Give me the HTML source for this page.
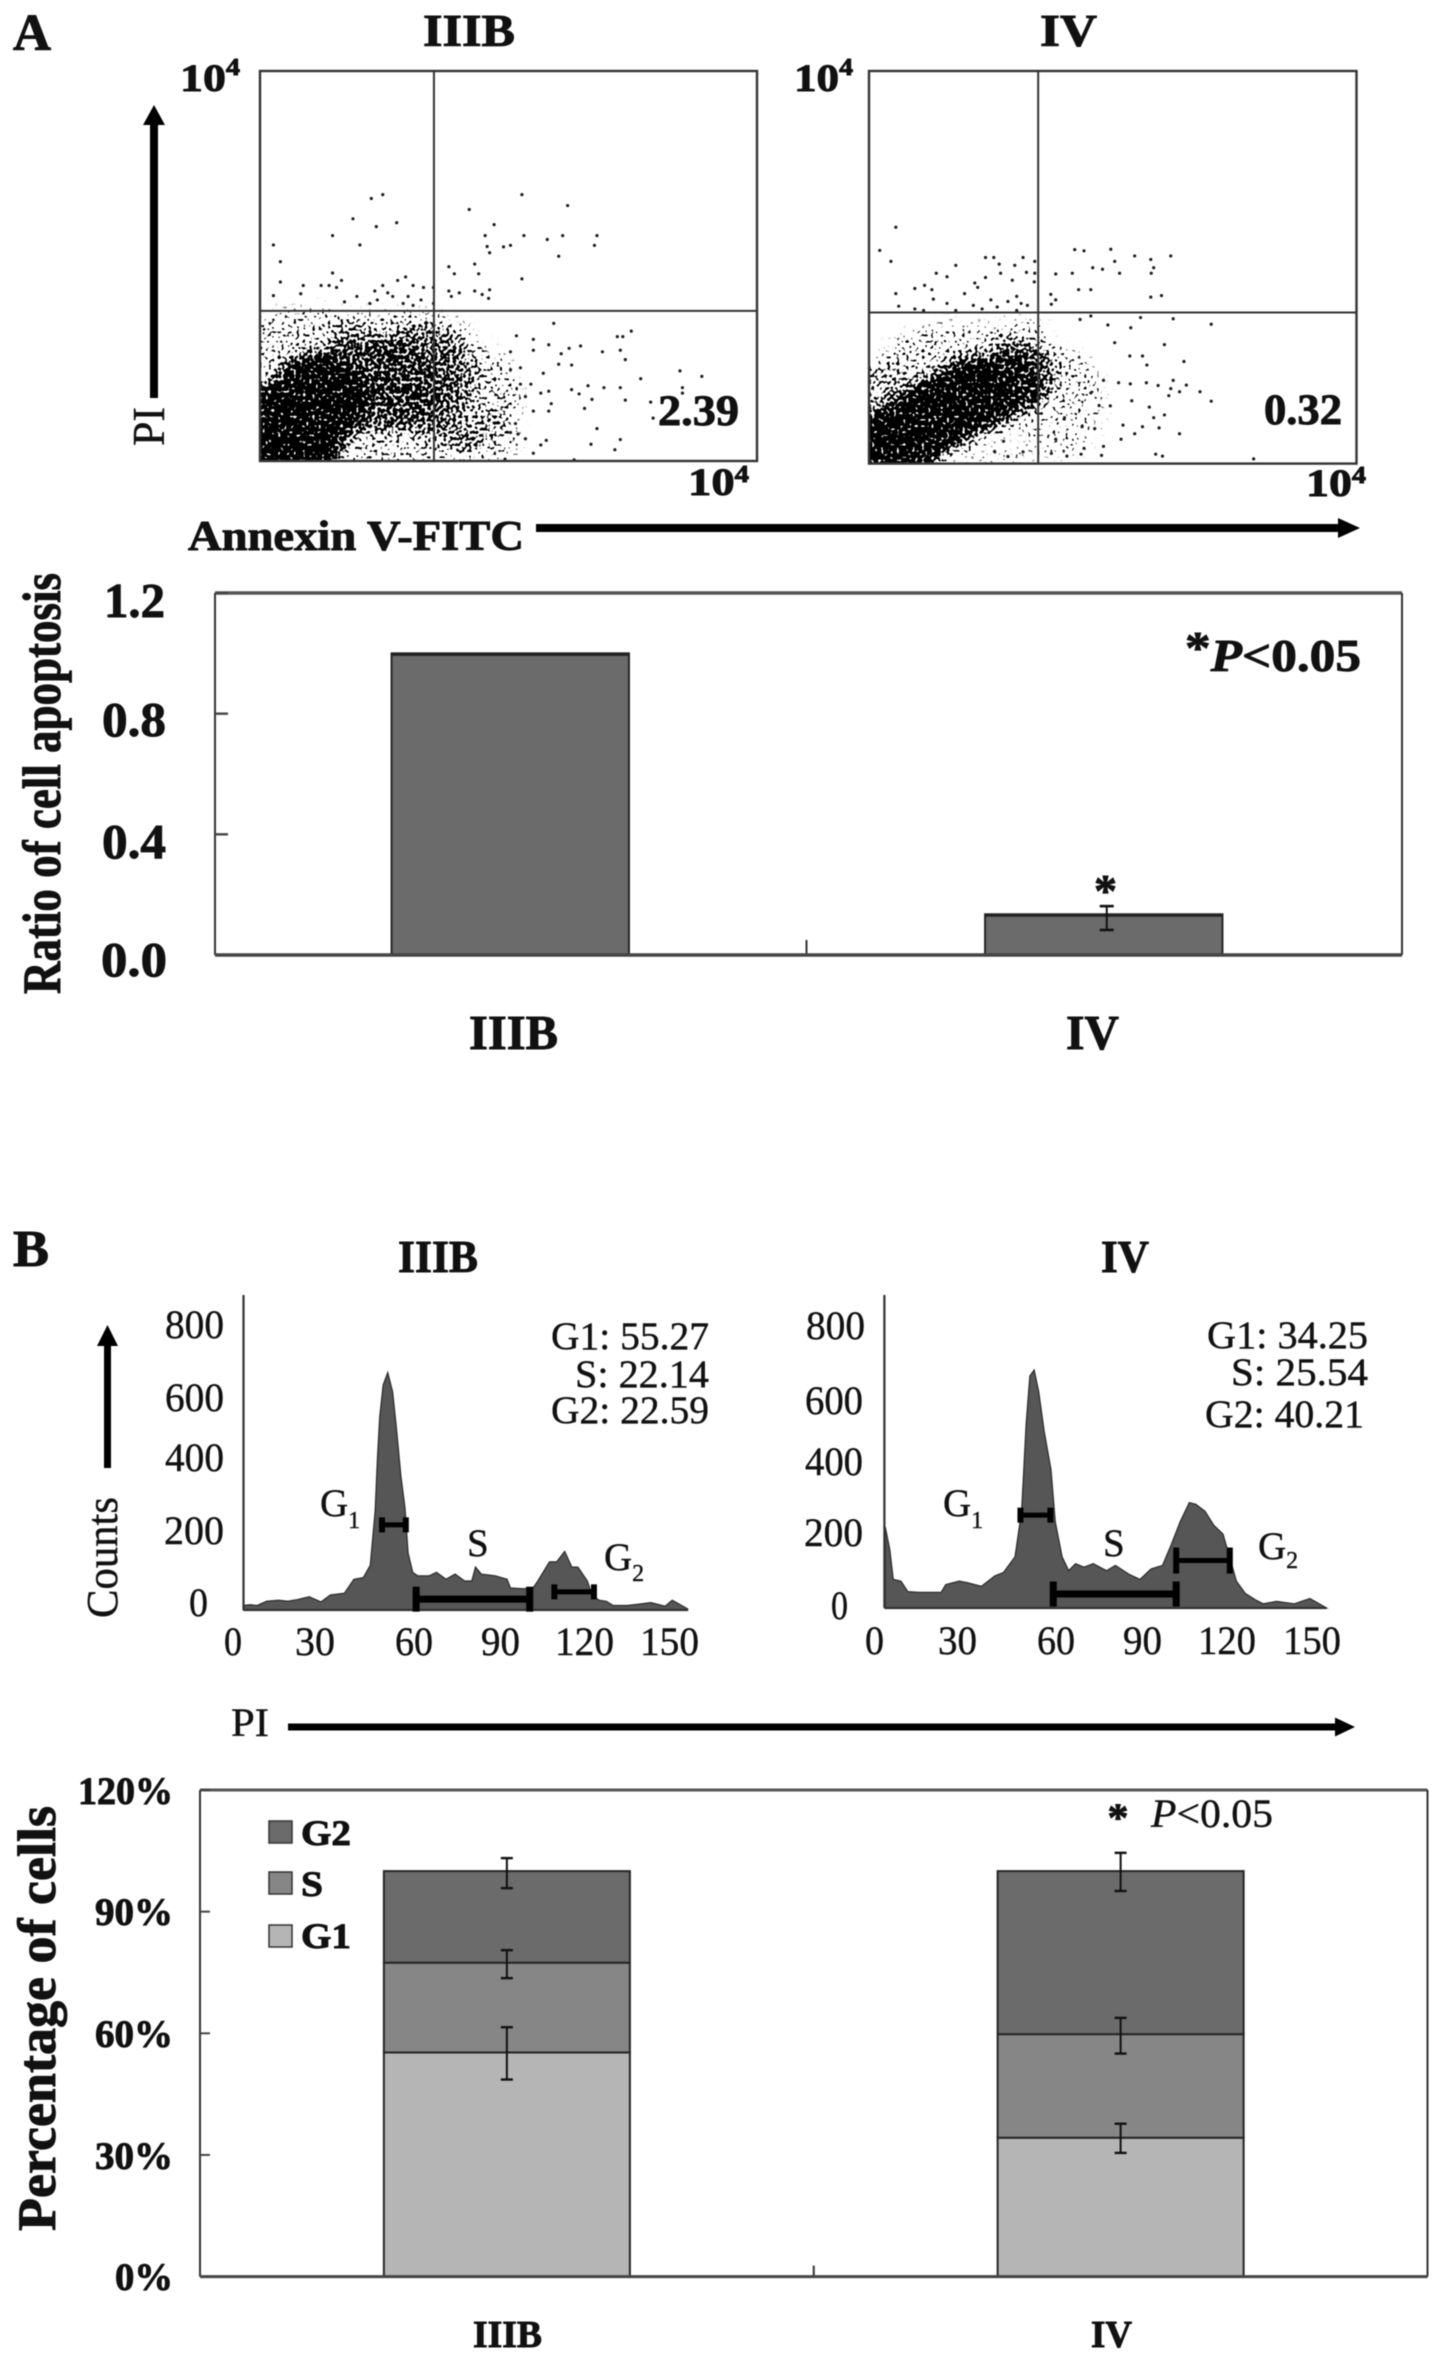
<!DOCTYPE html>
<html lang="en">
<head>
<meta charset="utf-8">
<title>Apoptosis and cell cycle: IIIB vs IV</title>
<style>
html,body{margin:0;padding:0;background:#fff;}
#figure{position:absolute;left:0;top:0;width:1441px;height:2360px;filter:blur(.55px);}
text{font-family:"Liberation Serif",serif;fill:#111;}
.b{font-weight:bold;stroke:#111;stroke-width:.9px;}
.r{font-weight:normal;stroke:#111;stroke-width:.4px;}
</style>
</head>
<body>
<svg id="figure" xmlns="http://www.w3.org/2000/svg" width="1441" height="2360" viewBox="0 0 1441 2360">
<defs>
<filter id="speckle" filterUnits="userSpaceOnUse" x="200" y="40" width="1200" height="460" color-interpolation-filters="sRGB">
<feGaussianBlur in="SourceGraphic" stdDeviation="7" result="dens"/>
<feTurbulence type="fractalNoise" baseFrequency="0.32" numOctaves="1" seed="7" result="t"/>
<feColorMatrix in="t" type="matrix" values="0 0 0 0 0  0 0 0 0 0  0 0 0 0 0  0 0 0 2.5 -0.75" result="n"/>
<feComposite in="dens" in2="n" operator="arithmetic" k1="0" k2="1" k3="1" k4="-1" result="m"/>
<feComponentTransfer in="m"><feFuncA type="linear" slope="6" intercept="0"/></feComponentTransfer>
</filter>
<clipPath id="clip-iiib"><rect x="260" y="71" width="497" height="390"/></clipPath>
<clipPath id="clip-iv"><rect x="869" y="71" width="487.5" height="392.6"/></clipPath>
</defs>

<!-- Panel A labels -->
<text class="b" x="13" y="50" font-size="52" textLength="38" lengthAdjust="spacingAndGlyphs">A</text>
<text class="b" x="423" y="46" font-size="45" textLength="92" lengthAdjust="spacingAndGlyphs">IIIB</text>
<text class="b" x="1040" y="46" font-size="45" textLength="57" lengthAdjust="spacingAndGlyphs">IV</text>
<text class="b" x="180" y="91" font-size="39" textLength="60" lengthAdjust="spacingAndGlyphs">10<tspan font-size="24" dy="-16">4</tspan></text>
<text class="b" x="688" y="495" font-size="39" textLength="61" lengthAdjust="spacingAndGlyphs">10<tspan font-size="24" dy="-13">4</tspan></text>
<text class="b" x="794" y="91" font-size="39" textLength="59" lengthAdjust="spacingAndGlyphs">10<tspan font-size="24" dy="-16">4</tspan></text>
<text class="b" x="1306" y="496" font-size="39" textLength="60" lengthAdjust="spacingAndGlyphs">10<tspan font-size="24" dy="-13">4</tspan></text>

<g id="scatter-layer"></g>

<text class="b" x="658" y="425" font-size="43" textLength="81" lengthAdjust="spacingAndGlyphs">2.39</text>
<text class="b" x="1264" y="424" font-size="43" textLength="78" lengthAdjust="spacingAndGlyphs">0.32</text>

<rect x="150" y="122" width="8" height="276" fill="#000"/>
<polygon points="154,105 143,125 165,125" fill="#000"/>
<text class="r" transform="translate(164,446) rotate(-90)" font-size="46" textLength="39" lengthAdjust="spacingAndGlyphs">PI</text>
<text class="b" x="188" y="550" font-size="42" textLength="336" lengthAdjust="spacingAndGlyphs">Annexin V-FITC</text>
<rect x="536" y="524" width="804" height="8" fill="#000"/>
<polygon points="1360,528 1338,518 1338,538" fill="#000"/>

<!-- Apoptosis bar chart labels -->
<g id="apoptosis-chart"></g>
<text class="b" transform="translate(60,994) rotate(-90)" font-size="54" textLength="421" lengthAdjust="spacingAndGlyphs">Ratio of cell apoptosis</text>
<text class="b" x="104" y="617" font-size="49" textLength="61" lengthAdjust="spacingAndGlyphs">1.2</text>
<text class="b" x="102" y="736" font-size="49" textLength="64" lengthAdjust="spacingAndGlyphs">0.8</text>
<text class="b" x="102" y="858" font-size="49" textLength="64" lengthAdjust="spacingAndGlyphs">0.4</text>
<text class="b" x="101" y="976" font-size="49" textLength="66" lengthAdjust="spacingAndGlyphs">0.0</text>
<text class="b" x="1185" y="671" font-size="46" textLength="176" lengthAdjust="spacingAndGlyphs"><tspan dy="-8">*</tspan><tspan dy="8" font-style="italic">P</tspan>&lt;0.05</text>
<text class="b" x="1094" y="906" font-size="46">*</text>
<text class="b" x="469" y="1049" font-size="49" textLength="89" lengthAdjust="spacingAndGlyphs">IIIB</text>
<text class="b" x="1066" y="1049" font-size="49" textLength="53" lengthAdjust="spacingAndGlyphs">IV</text>

<!-- Panel B labels -->
<text class="b" x="13" y="1266" font-size="52" textLength="36" lengthAdjust="spacingAndGlyphs">B</text>
<text class="b" x="398" y="1272" font-size="46" textLength="80" lengthAdjust="spacingAndGlyphs">IIIB</text>
<text class="b" x="1101" y="1272" font-size="46" textLength="48" lengthAdjust="spacingAndGlyphs">IV</text>

<g id="histogram-layer"></g>

<text class="r" x="165" y="1338" font-size="40" textLength="59" lengthAdjust="spacingAndGlyphs">800</text>
<text class="r" x="165" y="1411" font-size="40" textLength="59" lengthAdjust="spacingAndGlyphs">600</text>
<text class="r" x="165" y="1471" font-size="40" textLength="59" lengthAdjust="spacingAndGlyphs">400</text>
<text class="r" x="164" y="1544" font-size="40" textLength="60" lengthAdjust="spacingAndGlyphs">200</text>
<text class="r" x="189" y="1616" font-size="40" textLength="19" lengthAdjust="spacingAndGlyphs">0</text>
<text class="r" x="224" y="1655" font-size="40" textLength="18" lengthAdjust="spacingAndGlyphs">0</text>
<text class="r" x="295" y="1655" font-size="40" textLength="40" lengthAdjust="spacingAndGlyphs">30</text>
<text class="r" x="395" y="1655" font-size="40" textLength="38" lengthAdjust="spacingAndGlyphs">60</text>
<text class="r" x="481" y="1655" font-size="40" textLength="39" lengthAdjust="spacingAndGlyphs">90</text>
<text class="r" x="555" y="1655" font-size="40" textLength="59" lengthAdjust="spacingAndGlyphs">120</text>
<text class="r" x="640" y="1655" font-size="40" textLength="59" lengthAdjust="spacingAndGlyphs">150</text>

<text class="r" x="806" y="1339" font-size="40" textLength="59" lengthAdjust="spacingAndGlyphs">800</text>
<text class="r" x="805" y="1414" font-size="40" textLength="58" lengthAdjust="spacingAndGlyphs">600</text>
<text class="r" x="805" y="1475" font-size="40" textLength="58" lengthAdjust="spacingAndGlyphs">400</text>
<text class="r" x="804" y="1546" font-size="40" textLength="59" lengthAdjust="spacingAndGlyphs">200</text>
<text class="r" x="831" y="1619" font-size="40" textLength="17" lengthAdjust="spacingAndGlyphs">0</text>
<text class="r" x="865" y="1654" font-size="40" textLength="19" lengthAdjust="spacingAndGlyphs">0</text>
<text class="r" x="938" y="1654" font-size="40" textLength="39" lengthAdjust="spacingAndGlyphs">30</text>
<text class="r" x="1037" y="1654" font-size="40" textLength="38" lengthAdjust="spacingAndGlyphs">60</text>
<text class="r" x="1123" y="1654" font-size="40" textLength="39" lengthAdjust="spacingAndGlyphs">90</text>
<text class="r" x="1198" y="1654" font-size="40" textLength="58" lengthAdjust="spacingAndGlyphs">120</text>
<text class="r" x="1283" y="1654" font-size="40" textLength="58" lengthAdjust="spacingAndGlyphs">150</text>

<text class="r" x="551" y="1349" font-size="39" textLength="158" lengthAdjust="spacingAndGlyphs">G1: 55.27</text>
<text class="r" x="575" y="1387" font-size="39" textLength="134" lengthAdjust="spacingAndGlyphs">S: 22.14</text>
<text class="r" x="551" y="1423" font-size="39" textLength="158" lengthAdjust="spacingAndGlyphs">G2: 22.59</text>
<text class="r" x="1207" y="1348" font-size="39" textLength="161" lengthAdjust="spacingAndGlyphs">G1: 34.25</text>
<text class="r" x="1231" y="1385" font-size="39" textLength="137" lengthAdjust="spacingAndGlyphs">S: 25.54</text>
<text class="r" x="1205" y="1427" font-size="39" textLength="159" lengthAdjust="spacingAndGlyphs">G2: 40.21</text>

<text class="r" x="320" y="1516" font-size="39">G<tspan font-size="24" dy="12">1</tspan></text>
<text class="r" x="467" y="1556" font-size="39">S</text>
<text class="r" x="604" y="1570" font-size="39">G<tspan font-size="24" dy="11">2</tspan></text>
<text class="r" x="943" y="1516" font-size="39">G<tspan font-size="24" dy="12">1</tspan></text>
<text class="r" x="1103" y="1556" font-size="39">S</text>
<text class="r" x="1258" y="1559" font-size="39">G<tspan font-size="24" dy="9">2</tspan></text>

<text class="r" transform="translate(117,1618) rotate(-90)" font-size="44" textLength="121" lengthAdjust="spacingAndGlyphs">Counts</text>
<rect x="104" y="1343" width="7" height="125" fill="#000"/>
<polygon points="107.5,1325 97,1346 118,1346" fill="#000"/>
<text class="r" x="231" y="1736" font-size="40" textLength="38" lengthAdjust="spacingAndGlyphs">PI</text>
<rect x="288" y="1723.5" width="1050" height="7" fill="#000"/>
<polygon points="1355,1727 1335,1717.5 1335,1736.5" fill="#000"/>

<!-- Stacked chart labels -->
<g id="stacked-chart"></g>
<text class="b" transform="translate(55,2231) rotate(-90)" font-size="54" textLength="425" lengthAdjust="spacingAndGlyphs">Percentage of cells</text>
<text class="b" x="78" y="1804" font-size="39" textLength="95" lengthAdjust="spacingAndGlyphs">120%</text>
<text class="b" x="95" y="1925" font-size="39" textLength="78" lengthAdjust="spacingAndGlyphs">90%</text>
<text class="b" x="95" y="2047" font-size="39" textLength="78" lengthAdjust="spacingAndGlyphs">60%</text>
<text class="b" x="95" y="2169" font-size="39" textLength="78" lengthAdjust="spacingAndGlyphs">30%</text>
<text class="b" x="115" y="2290" font-size="39" textLength="58" lengthAdjust="spacingAndGlyphs">0%</text>

<rect x="269" y="1821" width="23" height="22" fill="#6b6b6b" stroke="#333" stroke-width="1.5"/>
<rect x="269" y="1872" width="23" height="22" fill="#868686" stroke="#333" stroke-width="1.5"/>
<rect x="269" y="1925" width="23" height="22" fill="#b5b5b5" stroke="#333" stroke-width="1.5"/>
<text class="b" x="301" y="1845" font-size="36" textLength="50" lengthAdjust="spacingAndGlyphs">G2</text>
<text class="b" x="301" y="1896" font-size="36" textLength="22" lengthAdjust="spacingAndGlyphs">S</text>
<text class="b" x="301" y="1948" font-size="36" textLength="50" lengthAdjust="spacingAndGlyphs">G1</text>

<text class="b" x="1107.5" y="1831" font-size="40" textLength="21" lengthAdjust="spacingAndGlyphs">*</text>
<text class="r" x="1151" y="1827" font-size="40" textLength="122" lengthAdjust="spacingAndGlyphs"><tspan font-style="italic">P</tspan>&lt;0.05</text>
<text class="b" x="473" y="2347" font-size="38" textLength="69" lengthAdjust="spacingAndGlyphs">IIIB</text>
<text class="b" x="1091" y="2347" font-size="38" textLength="41" lengthAdjust="spacingAndGlyphs">IV</text>
</svg>

<script>
/* ---------- Flow cytometry scatter: values in percent of the 4-decade log axes ---------- */
const annexinIIIB = [24.7,22.4,18.7,27.5,23.4,14.6,20.1,2.7,4.1,14.6,16.4,4.1,8.7,12.3,13.9,15.4,8.2,2.7,24.7,29.3,27.7,30.8,32.9,34.9,38,39.1,43.2,44,52.7,61.9,42.1,47.1,45.3,53.1,57.8,60.9,67.8,67.3,45.7,46.2,49,50.4,60.1,52.7,38,40.1,38.5,43.2,44.7,46.2,46,23.1,25.7,23.6,19.5,17,26.7,29.8,32.4,34.9,22.1,28.8,30.8,74.7,71.9,73,72.5,73.5,68.9,64.5,62.2,60.6,60.1,62.7,59.1,58.1,55,51.6,55,50.4,84.5,88.9,76.6,85,85,72.5,69.2,66,62.7,64.2,66.8,65.3,73.5,78.6,79.1,67.8,72.5,66.6,71.4,57.6,56.5,53.4,55,63.2,49.3,58.1,55,58.6,56.5,58.1,53.4,54.5,52.4,57,50.4,52.4,51.4,50.4,51.9];
const piIIIB = [68.3,67.3,62.1,61.1,60.1,57.8,55.4,55.4,51.1,48.2,46.3,45.9,45,45,45,44.5,42.9,42.4,45,47.2,46.3,45,44.5,44.5,49.8,48,50.5,48,68.3,65.5,64.5,60.6,57.8,57.8,56.8,57.8,57.8,55.3,55,53.4,54.9,55.3,52.5,46.7,43.6,43.1,42.2,43.6,42.7,43.9,41.7,43.6,43.1,41.3,42.2,40.8,42.2,42.2,41.3,40.4,40.4,40.4,39.9,33.3,31.9,31.9,28.4,26,28,29.5,28.9,27.5,24.8,24.6,35.3,29.8,31.2,32.1,28.4,28,23.1,21.7,21.1,18.8,17.4,18.8,18.8,19.3,18.3,17.2,15.8,13.5,15.6,15.1,11,8.3,5.5,4.3,2.9,5.3,4.1,5.7,2,0.3,0.5,12.8,12.8,14.7,17.4,17.9,16.5,19.7,19.7,22.5,23.4,23.9,9.6,7.3,6.9];
const annexinIV = [5.5,2.2,4.5,13.8,16,17.8,23.9,25.6,31.6,34,26.7,29.9,32.3,34,27,23.9,29.4,21.7,33.9,22.3,9.4,11.4,12.9,5.5,13.2,16,19.6,25,21.4,28.5,30.3,31.2,32.5,6.1,11.2,9.4,17.8,23.2,26.3,30.3,42.2,44.1,49.6,54.5,57.8,61.9,50.4,45.9,47.9,51.4,58.4,57.9,41.7,38.3,43,45.5,57.8,60,37.3,38.3,37.4,55.7,62.4,70.2,45.5,43.3,49,53.7,60.6,50.4,53.5,56.1,57,64.6,51.2,53.6,56.9,59.3,62.4,61.9,65.1,63.7,67.9,70.2,61.5,53.9,47.2,49.5,57.5,60.6,58.4,52.1,56.1,59.5,63.7,51.7,54.5,46.3,43.7,44.1,48.1,47.7,40.6,37.4,43.5,58.8,60.2,78.9,27.6,25.8,31.6,28.5,38.3,40.1,45.5,48.1];
const piIV = [60.2,54.3,51.5,48.5,47.6,50.5,52.5,52.5,52.5,51.5,50.8,50.5,48.7,48.5,48.5,47.4,46.7,46,46.3,44.9,44.6,45.4,44.3,43.3,41.9,40.8,43.3,41.7,40.3,41.3,42.6,40.8,40.3,40.1,39,39.4,39,39.4,39.9,39,54.5,54.2,54.6,52.9,52,52.9,51.5,49.9,49.5,48.5,49.9,48.5,48.5,48.3,44.3,44.3,42.4,42.8,43.1,41.7,40.6,37.2,36.9,35.5,37.6,36.7,35.3,34.6,30.3,30.8,27.4,27.4,25.1,26,20.6,20.3,20.6,19.9,21.2,19.1,20,18.3,18.3,15.9,17.3,16,14.8,14.7,14.4,12.4,11.7,9.8,9.4,9.1,7.6,6.2,7.6,8.9,9.4,3.9,4.4,2.1,1.9,2.6,2.4,2.4,1.9,1.2,5.7,3,3,1.8,6.2,11.7,18,21.2];
/* Too many events to read singly in the dense core, so density clouds stand in for them */
const cloudXIIIB = [5,12,22,32,26,42,10,28,46];
const cloudYIIIB = [7,16,19.5,21,5,16,30,32,5];
const cloudRxIIIB = [12,10,14,11,18,10,14,15,6];
const cloudRyIIIB = [14,12,12,14,6,14,9,6,8];
const cloudDensityIIIB = [1,1,.52,.48,.28,.32,.26,.28,.2];
const cloudXIV = [3.3,9.4,15.6,21.7,27.9,32,3.3,18.7,39,27,31];
const cloudYIV = [4.8,8.6,13.6,17.4,20,22.6,17.5,27.7,16,2,31];
const cloudRxIV = [7,8,8,9,8,7,6,15,9,8,6];
const cloudRyIV = [9,10,10,10,9,8,9,8,14,3,6];
const cloudDensityIV = [1,1,1,.95,.65,.5,.4,.24,.2,.15,.24];
const gateXPercent = [35, 34.7];
const gateYPercent = [38.5, 38.5];

/* ---------- Apoptosis ratio bar chart ---------- */
const apoptosisCategories = ['IIIB','IV'];
const apoptosisMeans = [1.0, 0.135];
const apoptosisErrHigh = [null, 0.162];
const apoptosisErrLow = [null, 0.083];
const apoptosisTicks = [0, 0.4, 0.8, 1.2];

/* ---------- Cell-cycle histograms ---------- */
const histChannelIIIB = [0,2.3,4.8,8.1,12.2,15.5,18.8,22.9,27,30.3,35.2,38.5,41.8,44.2,45.9,46.7,47.5,48.7,50.3,52,53.3,54.9,56.3,57.4,59,60.7,64.8,67.3,70.6,73.8,77.1,79.6,80.9,82.9,87.8,91.9,93.1,97.7,101,102.6,106.7,109.2,112,114.5,116.6,119.9,121.5,124,126.5,128.9,133.9,142.1,147,149.5,152.8,154.9];
const histCountIIIB = [13,15,13,25,28,25,30,38,23,43,48,88,93,128,283,433,553,645,680,625,523,383,293,163,108,98,98,108,88,103,83,83,123,103,98,88,63,61,63,83,138,138,168,123,123,83,43,28,25,13,13,21,11,28,13,3];
const histChannelIV = [0.3,1.9,3.1,5.8,8.2,12.1,15.2,19.9,21.5,26.2,29.3,34,38.7,41.8,45.8,48.1,49.7,51,52.5,54.1,56,58.4,59.9,62.3,64.6,67,70,73.2,77.9,81,85.7,89.6,93.5,97.5,100.6,103.7,106.9,109.2,112.4,115.5,118.7,121,123.4,126.5,130.4,132.8,137.5,143.7,149.2,152.4,155];
const histCountIV = [232,167,82,77,47,45,45,45,67,77,72,62,92,102,147,277,527,665,682,620,507,397,247,147,107,127,117,127,107,122,97,82,112,122,182,247,302,297,277,237,212,147,77,42,22,12,19,12,27,12,0];
const gateNames = ['g1','s','g2'];
const gateStartIIIB = [48.3, 60.2, 108.4];
const gateEndIIIB = [56.6, 99.8, 122.2];
const gateLevelIIIB = [244, 31, 52];
const gateStartIV = [47.7, 59.2, 102.3];
const gateEndIV = [58.2, 102.3, 121.1];
const gateLevelIV = [266, 40, 136];

/* ---------- Stacked percentage chart ---------- */
const stackCategories = ['IIIB','IV'];
const stackG1 = [55.27, 34.25];
const stackS = [22.14, 25.54];
const stackG2 = [22.59, 40.21];
const errG1High = [61.5, 37.7];
const errG1Low = [48.6, 30.5];
const errSHigh = [80.5, 63.8];
const errSLow = [73.6, 55];
const errG2High = [103.2, 104.5];
const errG2Low = [95.8, 95.1];
const stackTicks = [0, 30, 60, 90, 120];

const SVGNS = 'http://www.w3.org/2000/svg';
function mk(tag, attrs, parent) {
  const el = document.createElementNS(SVGNS, tag);
  for (const k in attrs) el.setAttribute(k, attrs[k]);
  parent.appendChild(el);
  return el;
}
function seg(x1, y1, x2, y2, color, width, parent) {
  return mk('line', {x1: x1, y1: y1, x2: x2, y2: y2, stroke: color, 'stroke-width': width}, parent);
}

/* Scatter panels */
function drawScatter(key, box, xs, ys, cx, cy, crx, cry, cd, gateX, gateY) {
  const layer = document.getElementById('scatter-layer');
  const sx = u => box.x + u * box.w / 100;
  const sy = v => box.y + box.h - v * box.h / 100;
  const srx = u => u * box.w / 100;
  const sry = v => v * box.h / 100;

  const clip = mk('g', {'clip-path': 'url(#clip-' + key + ')'}, layer);
  
  
  const dens = mk('g', {filter: 'url(#speckle)'}, clip);
  
  
  cx.forEach((c, i) => {
    const e = mk('ellipse', {cx: sx(c), cy: sy(cy[i]), rx: srx(crx[i]), ry: sry(cry[i]), fill: '#000', 'fill-opacity': cd[i]}, dens);
    
    
  });
  xs.forEach((x, i) => {
    const p = mk('circle', {cx: sx(x), cy: sy(ys[i]), r: 1.6, fill: '#1c1c1c'}, clip);
    
    
  });
  const frame = mk('rect', {x: box.x, y: box.y, width: box.w, height: box.h, fill: 'none', stroke: '#333', 'stroke-width': 2.4}, layer);
  
  
  const v = seg(sx(gateX), box.y, sx(gateX), box.y + box.h, '#333', 2, layer);
  
  
  const h = seg(box.x, sy(gateY), box.x + box.w, sy(gateY), '#333', 2, layer);
  
  
}
drawScatter('iiib', {x: 260, y: 71, w: 497, h: 390}, annexinIIIB, piIIIB, cloudXIIIB, cloudYIIIB, cloudRxIIIB, cloudRyIIIB, cloudDensityIIIB, gateXPercent[0], gateYPercent[0]);
drawScatter('iv', {x: 869, y: 71, w: 487.5, h: 392.6}, annexinIV, piIV, cloudXIV, cloudYIV, cloudRxIV, cloudRyIV, cloudDensityIV, gateXPercent[1], gateYPercent[1]);

/* Apoptosis bar chart */
(function () {
  const g = document.getElementById('apoptosis-chart');
  const L = 215, R = 1402, T = 593, B = 955;
  const yA = v => B - v * (B - T) / 1.2;
  const band = (R - L) / apoptosisCategories.length;
  const xA = i => L + band * (i + 0.5) - 1.5;
  const bw = band * 0.4;

  const top = seg(L, T, R, T, '#555', 3.4, g);
  
  
  const left = seg(L, T, L, B, '#333', 2, g);
  
  
  const right = seg(R, T, R, B, '#333', 2, g);
  
  

  apoptosisTicks.forEach(t => {
    const m = seg(L, yA(t), L + 13, yA(t), '#444', 2.4, g);
    
    
  });
  const mid = seg(L + (R - L) / 2 - 2, B - 15, L + (R - L) / 2 - 2, B, '#333', 2, g);
  
  

  apoptosisMeans.forEach((v, i) => {
    const bar = mk('rect', {x: xA(i) - bw / 2, y: yA(v), width: bw, height: B - yA(v), fill: '#6b6b6b', stroke: '#262626', 'stroke-width': 2}, g);
    
    
    const topEdge = seg(xA(i) - bw / 2, yA(v) + 1, xA(i) + bw / 2, yA(v) + 1, '#222', 3, g);
    
    
    if (apoptosisErrHigh[i] !== null) {
      const ex = xA(i) + 3;
      const stem = seg(ex, yA(apoptosisErrHigh[i]), ex, yA(apoptosisErrLow[i]), '#111', 2, g);
      
      
      const c1 = seg(ex - 7, yA(apoptosisErrHigh[i]), ex + 7, yA(apoptosisErrHigh[i]), '#111', 2.6, g);
      
      
      const c2 = seg(ex - 7, yA(apoptosisErrLow[i]), ex + 7, yA(apoptosisErrLow[i]), '#111', 2.6, g);
      
      
    }
  });
  const bottom = seg(L, B, R, B, '#444', 3.4, g);
  
  
})();

/* Histograms */
function drawHist(key, x0, base, xEnd, channels, counts, gs, ge, gl) {
  const layer = document.getElementById('histogram-layer');
  const xH = v => x0 + v * (xEnd - x0) / 155;
  const yH = c => base - c * 0.349;
  let d = 'M' + xH(channels[0]) + ',' + base;
  channels.forEach((v, i) => { d += ' L' + xH(v) + ',' + yH(counts[i]); });
  d += ' L' + xH(channels[channels.length - 1]) + ',' + base + ' Z';
  const area = mk('path', {d: d, fill: '#565656', stroke: '#2a2a2a', 'stroke-width': 1.2}, layer);
  
  

  const ya = seg(x0, 1295, x0, base, '#333', 2.2, layer);
  
  
  const xa = seg(x0, base, xEnd, base, '#333', 2.2, layer);
  
  

  gateNames.forEach((name, i) => {
    const s = name === 's';
    const half = s ? 12.5 : (name === 'g2' && key === 'iv' ? 13 : 7.5);
    const lw = s ? 7 : 5;
    const capW = s ? 7 : 6;
    const line = seg(xH(gs[i]), yH(gl[i]), xH(ge[i]), yH(gl[i]), '#000', lw, layer);
    
    
    const c1 = seg(xH(gs[i]), yH(gl[i]) - half, xH(gs[i]), yH(gl[i]) + half, '#000', capW, layer);
    
    
    const c2 = seg(xH(ge[i]), yH(gl[i]) - half, xH(ge[i]), yH(gl[i]) + half, '#000', capW, layer);
    
    
  });
}
drawHist('iiib', 243.5, 1610, 688, histChannelIIIB, histCountIIIB, gateStartIIIB, gateEndIIIB, gateLevelIIIB);
drawHist('iv', 884.4, 1608, 1326.5, histChannelIV, histCountIV, gateStartIV, gateEndIV, gateLevelIV);

/* Stacked chart */
(function () {
  const g = document.getElementById('stacked-chart');
  const L = 200, R = 1427.5, T = 1790, B = 2276.6;
  const yB = v => B - v * (B - T) / 120;
  const band = (R - L) / stackCategories.length;
  const xB = i => L + band * (i + 0.5);
  const bw = 246;
  const colors = ['#b5b5b5', '#868686', '#6b6b6b'];
  const segNames = ['g1', 's', 'g2'];
  const series = [stackG1, stackS, stackG2];
  const highs = [errG1High, errSHigh, errG2High];
  const lows = [errG1Low, errSLow, errG2Low];

  const top = seg(L, T, R, T, '#555', 3, g);
  
  
  const left = seg(L, T, L, B, '#333', 2, g);
  
  
  const right = seg(R, T, R, B, '#333', 2, g);
  
  
  stackTicks.forEach(t => {
    const m = seg(L, yB(t), L + 10, yB(t), '#444', 2, g);
    
    
  });
  const mid = seg(L + (R - L) / 2, B - 11, L + (R - L) / 2, B, '#333', 2, g);
  
  

  stackCategories.forEach((cat, i) => {
    let acc = 0;
    series.forEach((arr, k) => {
      const y0 = yB(acc);
      acc += arr[i];
      const y1 = yB(acc);
      const r = mk('rect', {x: xB(i) - bw / 2, y: y1, width: bw, height: y0 - y1, fill: colors[k], stroke: '#262626', 'stroke-width': 2}, g);
      
      
    });
  });
  stackCategories.forEach((cat, i) => {
    series.forEach((arr, k) => {
      const stem = seg(xB(i), yB(highs[k][i]), xB(i), yB(lows[k][i]), '#111', 2, g);
      
      
      const c1 = seg(xB(i) - 6, yB(highs[k][i]), xB(i) + 6, yB(highs[k][i]), '#111', 2.4, g);
      
      
      const c2 = seg(xB(i) - 6, yB(lows[k][i]), xB(i) + 6, yB(lows[k][i]), '#111', 2.4, g);
      
      
    });
  });
  const bottom = seg(L, B, R, B, '#444', 3, g);
  
  
})();
</script>
</body>
</html>
